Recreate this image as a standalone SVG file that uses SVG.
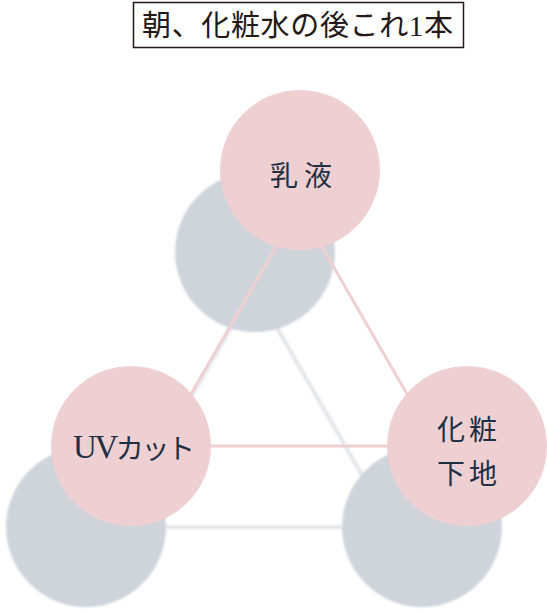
<svg xmlns="http://www.w3.org/2000/svg" width="547" height="614" viewBox="0 0 547 614">
  <defs>
    <filter id="soft" x="-10%" y="-10%" width="120%" height="120%">
      <feGaussianBlur stdDeviation="1.2"/>
    </filter>
  </defs>
  <style>
    .gray { fill: #cfd4db; }
    .pink { fill: #efd0d2; }
    .gline { stroke: #e3e6ea; stroke-width: 4; fill: none; }
    .pline { stroke: #efd0d2; stroke-width: 3; fill: none; }
    .label { font-family: "Noto Sans CJK JP", "Noto Sans", sans-serif; font-size: 28px; fill: #1f3044; text-anchor: middle; dominant-baseline: central; }
    .latin { font-family: "Liberation Serif", serif; font-size: 33px; }
    .title { font-family: "Liberation Serif", "Noto Sans CJK JP", serif; font-size: 29px; fill: #231815; dominant-baseline: central; }
  </style>
  <rect width="547" height="614" fill="#ffffff"/>

  <g id="title">
    <rect x="133.5" y="2.5" width="330" height="45" fill="#ffffff" stroke="#231815" stroke-width="1.5"/>
    <text class="title" x="142" y="25.5" textLength="311" lengthAdjust="spacing">朝、化粧水の後これ1本</text>
  </g>

  <g id="shadows" filter="url(#soft)">
    <polygon class="gline" points="254,288 116,527 392,527"/>
    <circle class="gray" cx="255" cy="252" r="80"/>
    <circle class="gray" cx="86" cy="527" r="80"/>
    <circle class="gray" cx="422" cy="527" r="80"/>
  </g>

  <g id="connectors">
    <polygon class="pline" points="299,207 161,446 437,446"/>
  </g>

  <g id="node-nyueki">
    <circle class="pink" cx="300" cy="170" r="80"/>
    <text class="label" x="301" y="174" textLength="62" lengthAdjust="spacing">乳液</text>
  </g>

  <g id="node-uvcut">
    <circle class="pink" cx="131" cy="446" r="80"/>
    <text class="label" x="134" y="447" textLength="122" lengthAdjust="spacing"><tspan class="latin">UV</tspan>カット</text>
  </g>

  <g id="node-keshoshitaji">
    <circle class="pink" cx="467" cy="446" r="80"/>
    <text class="label" x="467" y="427.5" textLength="60" lengthAdjust="spacing">化粧</text>
    <text class="label" x="467" y="472" textLength="60" lengthAdjust="spacing">下地</text>
  </g>
</svg>
